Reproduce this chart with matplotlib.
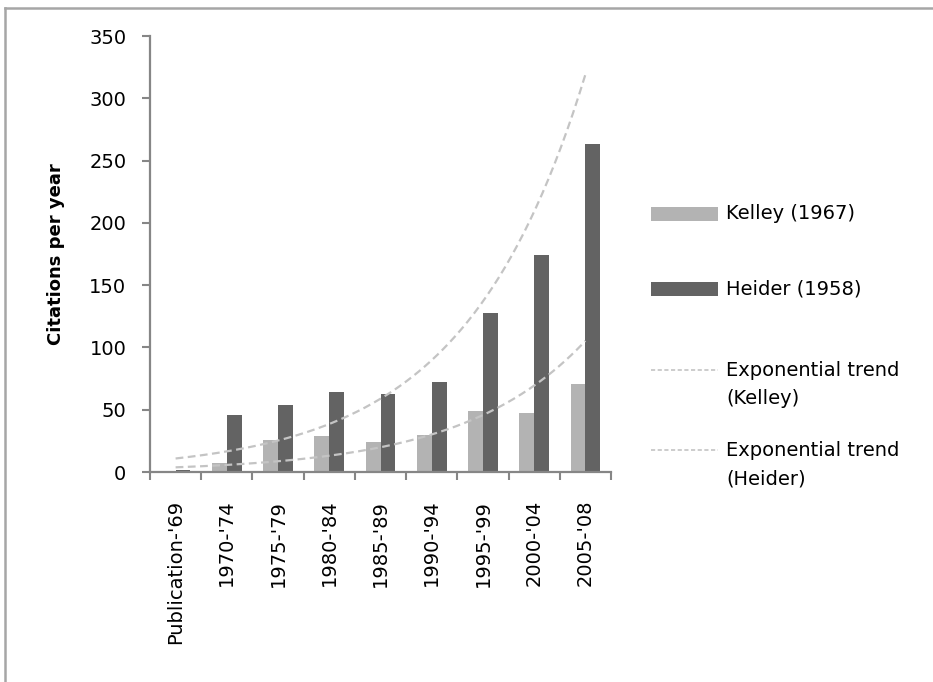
import numpy as np
import matplotlib
matplotlib.use("Agg")
import matplotlib.pyplot as plt
from matplotlib.lines import Line2D
from matplotlib.patches import Rectangle

# Citation counts per year for two classic attribution works
periods = ["Publication-'69", "1970-'74", "1975-'79", "1980-'84", "1985-'89",
           "1990-'94", "1995-'99", "2000-'04", "2005-'08"]
kelley = [0.8, 7, 25.5, 28.5, 24, 30, 49, 47.5, 70.5]
heider = [2, 46, 53.5, 64.5, 63, 72, 128, 174, 263]
y_ticks = [0, 50, 100, 150, 200, 250, 300, 350]

legend_labels = ["Kelley (1967)", "Heider (1958)",
                 "Exponential trend\n(Kelley)", "Exponential trend\n(Heider)"]

KELLEY_C = "#b3b3b3"
HEIDER_C = "#636363"
TREND_C = "#c4c4c4"
AXIS_C = "#868686"
FONT = "DejaVu Sans"

W, H = 933, 682
fig = plt.figure(figsize=(W / 100, H / 100), dpi=100)
ax = fig.add_axes([150 / W, (H - 472) / H, (611 - 150) / W, (472 - 36) / H])

x = np.arange(len(periods))
bw = 0.29
ax.bar(x - bw / 2, kelley, width=bw, color=KELLEY_C, linewidth=0, zorder=2)
ax.bar(x + bw / 2, heider, width=bw, color=HEIDER_C, linewidth=0, zorder=2)


def exp_trend(values):
    # least-squares fit of log(y) = a + b*t with t = 1..n
    t = np.arange(1, len(values) + 1)
    b, a = np.polyfit(t, np.log(values), 1)
    tt = np.linspace(1, len(values), 200)
    return tt - 1, np.exp(a + b * tt)


for vals in (kelley, heider):
    tx, ty = exp_trend(vals)
    ax.plot(tx, ty, color=TREND_C, linestyle=(0, (3.5, 2)), linewidth=1.6, zorder=3)

ax.set_xlim(-0.5, len(periods) - 0.5)
ax.set_ylim(0, 350)
ax.set_yticks(y_ticks)
ax.set_yticklabels([str(v) for v in y_ticks], fontsize=14, family=FONT)

ax.set_xticks(x)
ax.set_xticklabels(periods, rotation=90, fontsize=14, family=FONT, va="top", ha="center")
ax.set_xticks(np.arange(-0.5, len(periods)), minor=True)
ax.tick_params(axis="x", which="major", length=0, pad=20)
ax.tick_params(axis="x", which="minor", length=6, width=1.5, color=AXIS_C, direction="out")
ax.tick_params(axis="y", length=6, width=1.5, color=AXIS_C, direction="out", pad=11)

for side in ("top", "right"):
    ax.spines[side].set_visible(False)
for side in ("left", "bottom"):
    ax.spines[side].set_color(AXIS_C)
    ax.spines[side].set_linewidth(1.6)

ax.set_ylabel("Citations per year", fontsize=13, fontweight="bold", family=FONT)
ax.yaxis.set_label_coords(-0.185, 0.5)


# Legend drawn in pixel coordinates on the figure
def px(xp, yp):
    return xp / W, 1 - yp / H


sw_x0, sw_x1, txt_x = 651, 718, 726
entries = [
    ("patch", KELLEY_C, 214, legend_labels[0]),
    ("patch", HEIDER_C, 289, legend_labels[1]),
    ("line", TREND_C, 370, legend_labels[2]),
    ("line", TREND_C, 450, legend_labels[3]),
]
for kind, color, yc, label in entries:
    if kind == "patch":
        x0, y0 = px(sw_x0, yc + 7)
        fig.add_artist(Rectangle((x0, y0), (sw_x1 - sw_x0) / W, 14 / H,
                                 transform=fig.transFigure, color=color, linewidth=0))
    else:
        xa, ya = px(sw_x0, yc)
        xb, _ = px(sw_x1, yc)
        fig.add_artist(Line2D([xa, xb], [ya, ya], transform=fig.transFigure,
                              color=color, linestyle=(0, (2.5, 1.5)), linewidth=1.2))
    for k, ln in enumerate(label.split("\n")):
        tx, ty = px(txt_x, yc + k * 29)
        fig.text(tx, ty, ln, fontsize=14, family=FONT, va="center", ha="left")

# Chart-area border along the top and left
fig.add_artist(Line2D([5 / W, 1], [1 - 8 / H, 1 - 8 / H], transform=fig.transFigure,
                      color="#a6a6a6", linewidth=1.8))
fig.add_artist(Line2D([5 / W, 5 / W], [0, 1 - 8 / H], transform=fig.transFigure,
                      color="#a6a6a6", linewidth=1.8))

fig.savefig("out.png", dpi=100)
